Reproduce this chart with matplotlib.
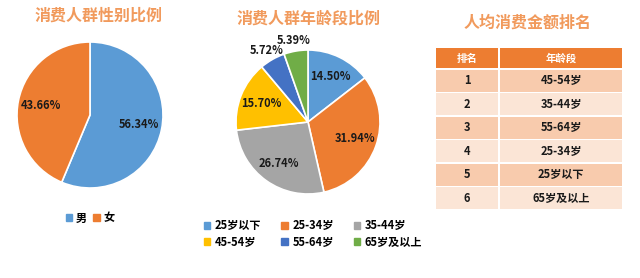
import matplotlib
matplotlib.use('Agg')
import matplotlib.pyplot as plt
import numpy as np
from matplotlib.patches import Rectangle, Patch

plt.rcParams['font.family'] = ['Noto Sans CJK SC', 'DejaVu Sans']

# gender share
gender_labels = ['男', '女']
gender_values = [56.34, 43.66]
gender_colors = ['#5B9BD5', '#ED7D31']

# age group share
age_labels = ['25岁以下', '25-34岁', '35-44岁', '45-54岁', '55-64岁', '65岁及以上']
age_values = [14.50, 31.94, 26.74, 15.70, 5.72, 5.39]
age_colors = ['#5B9BD5', '#ED7D31', '#A5A5A5', '#FFC000', '#4472C4', '#70AD47']

# spending ranking table
rank_header = ['排名', '年龄段']
rank_no = ['1', '2', '3', '4', '5', '6']
rank_age = ['45-54岁', '35-44岁', '55-64岁', '25-34岁', '25岁以下', '65岁及以上']

title_color = '#F19A5C'
W, H = 640, 278

fig = plt.figure(figsize=(6.4, 2.78), dpi=100)


def pie_axes(cx, cy, r):
    # pixel centre / radius -> figure axes
    return fig.add_axes([(cx - r) / W, (H - cy - r) / H, 2 * r / W, 2 * r / H])


# --- pie 1 ---
ax1 = pie_axes(90, 115, 73)
w1, t1, a1 = ax1.pie(gender_values, colors=gender_colors, startangle=90, counterclock=False,
                     autopct='%.2f%%', pctdistance=0.68,
                     wedgeprops=dict(edgecolor='white', linewidth=1.2),
                     textprops=dict(fontsize=8, fontweight='bold', color='#1a1a1a'))
ax1.set_xlim(-1, 1); ax1.set_ylim(-1, 1)
fig.text(99 / W, 1 - 16 / H, '消费人群性别比例', ha='center', va='center',
         fontsize=11.5, fontweight='bold', color=title_color)
fig.legend(handles=[Patch(color=c, label=l) for c, l in zip(gender_colors, gender_labels)],
           loc='center', bbox_to_anchor=(90 / W, 1 - 218 / H), ncol=2, frameon=False,
           handlelength=0.6, handleheight=0.6, handletextpad=0.3, columnspacing=0.6,
           prop=dict(size=8, weight='bold'))

# --- pie 2 ---
ax2 = pie_axes(308, 122, 72)
w2, t2, a2 = ax2.pie(age_values, colors=age_colors, startangle=90, counterclock=False,
                     autopct='%.2f%%', pctdistance=0.7,
                     wedgeprops=dict(edgecolor='white', linewidth=1.2),
                     textprops=dict(fontsize=8, fontweight='bold', color='#1a1a1a'))
ax2.set_xlim(-1, 1); ax2.set_ylim(-1, 1)
# push the two small slices' labels outside
for i in (4, 5):
    ang = np.deg2rad((w2[i].theta1 + w2[i].theta2) / 2)
    a2[i].set_position((1.17 * np.cos(ang), 1.15 * np.sin(ang)))
fig.text(309 / W, 1 - 19 / H, '消费人群年龄段比例', ha='center', va='center',
         fontsize=11.5, fontweight='bold', color=title_color)
# legend fills row by row in the reference
order = [0, 3, 1, 4, 2, 5]
handles = [Patch(color=age_colors[k], label=age_labels[k]) for k in order]
fig.legend(handles=handles,
           loc='center', bbox_to_anchor=(313 / W, 1 - 234 / H), ncol=3, frameon=False,
           handlelength=0.6, handleheight=0.6, handletextpad=0.4, columnspacing=1.8,
           labelspacing=0.3, prop=dict(size=8, weight='bold'))

# --- ranking table ---
tx0, tx1, ty0, ty1 = 435, 623, 48, 210
axt = fig.add_axes([tx0 / W, (H - ty1) / H, (tx1 - tx0) / W, (ty1 - ty0) / H])
axt.set_xlim(0, tx1 - tx0)
axt.set_ylim(ty1 - ty0, 0)
axt.axis('off')
col_w = [64, tx1 - tx0 - 64]
head_h = 21
row_h = (ty1 - ty0 - head_h) / len(rank_no)
gap = 1.2
x = 0
for j, name in enumerate(rank_header):
    axt.add_patch(Rectangle((x + gap / 2, 0), col_w[j] - gap, head_h - gap, color='#ED7D31', lw=0))
    axt.text(x + col_w[j] / 2, head_h / 2, name, ha='center', va='center',
             fontsize=7.5, fontweight='bold', color='white')
    x += col_w[j]
for i, (n, a) in enumerate(zip(rank_no, rank_age)):
    y = head_h + i * row_h
    fc = '#F8CBAD' if i % 2 == 0 else '#FBE5D6'
    x = 0
    for j, val in enumerate([n, a]):
        axt.add_patch(Rectangle((x + gap / 2, y + gap / 2), col_w[j] - gap, row_h - gap, color=fc, lw=0))
        axt.text(x + col_w[j] / 2, y + row_h / 2, val, ha='center', va='center',
                 fontsize=8, fontweight='bold', color='#1a1a1a')
        x += col_w[j]
fig.text(528 / W, 1 - 23 / H, '人均消费金额排名', ha='center', va='center',
         fontsize=11.5, fontweight='bold', color=title_color)

fig.savefig('out.png', dpi=100, facecolor='white')
